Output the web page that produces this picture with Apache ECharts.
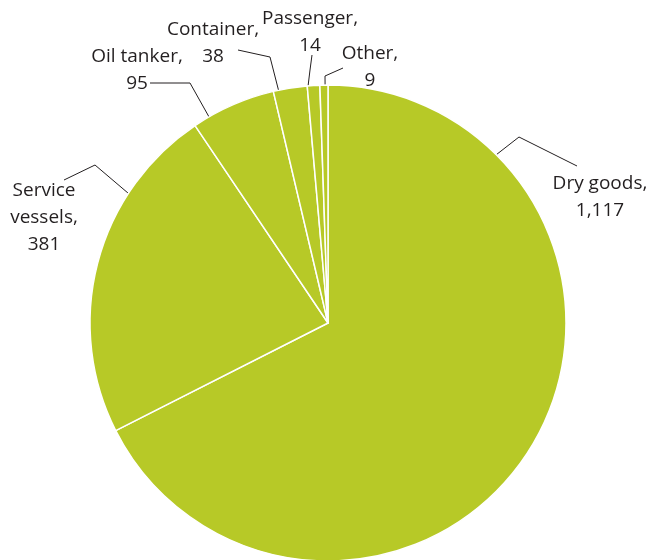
<!DOCTYPE html>
<html>
<head>
<meta charset="utf-8">
<script src="https://cdn.jsdelivr.net/npm/echarts@6/dist/echarts.min.js"></script>
<style>
html, body { margin: 0; padding: 0; background: #fff; }
#chart { width: 648px; height: 560px; }
</style>
</head>
<body>
<div id="chart"></div>
<script>
// 船舶类型 / 数量
var categories = ['Dry goods', 'Service vessels', 'Oil tanker', 'Container', 'Passenger', 'Other'];
var counts = [1117, 381, 95, 38, 14, 9];
var labelNames = ['Dry goods,', 'Service\nvessels,', 'Oil tanker,', 'Container,', 'Passenger,', 'Other,'];

var pieCenter = [328, 323];
var pieRadius = 238;

// label placement (text centre), leader elbow/end, and angle (deg from 12 o'clock) where the leader touches the pie
var labelPos = [
	{x: 600, y: 197, angle: 45, elbow: [519, 137], end: [577, 166]},
	{x: 44, y: 218, angle: 303, elbow: [95, 165], end: [64, 180]},
	{x: 137, y: 70, angle: 330, elbow: [190, 83], end: [150, 83]},
	{x: 213, y: 43, angle: 348, elbow: [270, 57], end: [238, 50]},
	{x: 310, y: 32, angle: 355.2, elbow: [310, 70], end: [312, 55]},
	{x: 370, y: 67, angle: 359.3, elbow: [325, 76], end: [343, 68]}
];

function fmt(n) {
	return n.toString().replace(/\B(?=(\d{3})+(?!\d))/g, ',');
}

function edgePoint(deg) {
	var a = deg * Math.PI / 180;
	return [pieCenter[0] + pieRadius * Math.sin(a), pieCenter[1] - pieRadius * Math.cos(a)];
}

var seriesData = [];
for (var i = 0; i < categories.length; i++) {
	seriesData.push({name: categories[i], value: counts[i], labelText: labelNames[i]});
}

var myChart = echarts.init(document.getElementById('chart'));
var option = {
	animation: false,
	series: [{
		type: 'pie',
		center: pieCenter,
		radius: pieRadius,
		startAngle: 90,
		clockwise: true,
		silent: true,
		itemStyle: {
			color: '#b7c927',
			borderColor: '#ffffff',
			borderWidth: 1.5
		},
		label: {
			show: true,
			formatter: function (p) {
				return p.data.labelText + '\n' + fmt(p.value);
			},
			fontFamily: 'Open Sans',
			fontSize: 19,
			lineHeight: 27,
			color: '#231f20',
			align: 'center',
			overflow: 'none',
			width: 200
		},
		labelLine: {
			show: true,
			length: 20,
			length2: 20,
			lineStyle: {color: '#231f20', width: 1}
		},
		labelLayout: function (params) {
			var lp = labelPos[params.dataIndex];
			return {
				x: lp.x,
				y: lp.y,
				align: 'center',
				verticalAlign: 'middle',
				labelLinePoints: [edgePoint(lp.angle), lp.elbow, lp.end]
			};
		},
		data: seriesData
	}]
};
myChart.setOption(option);
</script>
</body>
</html>
